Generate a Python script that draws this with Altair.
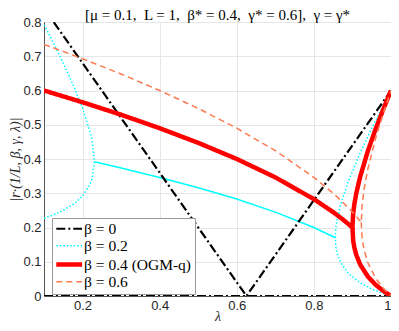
import altair as alt
import pandas as pd

labels = ["β = 0", "β = 0.2", "β = 0.4 (OGM-q)", "β = 0.6"]
colors = ["#000000", "#00ffff", "#ff0000", "#ff7a50"]
dashes = [[9, 3, 2, 3], [1.5, 2], [1, 0], [6, 4]]
widths = [2.2, 1.5, 4.5, 1.5]

# beta = 0
b0_v_lam = [0.1, 0.625, 1.0]
b0_v_r = [0.84, 0.0, 0.6]
b0_z_lam = [0.1, 1.0]
b0_z_r = [0.0, 0.0]

# beta = 0.2 (real-root parts, dotted)
b2_left_lam = [0.1, 0.12, 0.15, 0.18, 0.2, 0.22, 0.225, 0.2309, 0.225, 0.22, 0.2, 0.18, 0.15, 0.12, 0.1]
b2_left_r = [0.227, 0.235, 0.25, 0.271, 0.292, 0.327, 0.343, 0.392, 0.452, 0.477, 0.548, 0.605, 0.68, 0.749, 0.793]
b2_right_lam = [1.0, 0.98, 0.95, 0.92, 0.89, 0.87, 0.86, 0.857, 0.8556, 0.857, 0.86, 0.87, 0.89, 0.92, 0.95, 0.98, 1.0]
b2_right_r = [0.0, 0.0072, 0.0205, 0.0383, 0.0654, 0.0965, 0.1263, 0.1441, 0.17, 0.1986, 0.2217, 0.2695, 0.3367, 0.4177, 0.4896, 0.5568, 0.6]
# beta = 0.2 (complex-root part, thin solid)
b2_mid_lam = [0.2309, 0.3, 0.4, 0.5, 0.6, 0.7, 0.8, 0.8556]
b2_mid_r = [0.392, 0.374, 0.346, 0.316, 0.283, 0.245, 0.2, 0.17]

# beta = 0.4
b4_up_lam = [0.1, 0.2, 0.3, 0.4, 0.5, 0.6, 0.7, 0.8, 0.85, 0.875, 0.9, 0.902, 0.905, 0.91, 0.92, 0.94, 0.96, 0.98, 1.0]
b4_up_r = [0.6, 0.5657, 0.5292, 0.4899, 0.4472, 0.4, 0.3464, 0.2828, 0.2449, 0.2236, 0.2, 0.242, 0.2684, 0.3, 0.3481, 0.4233, 0.4872, 0.5453, 0.6]
b4_lo_lam = [0.9, 0.902, 0.905, 0.91, 0.92, 0.94, 0.96, 0.98, 1.0]
b4_lo_r = [0.2, 0.16, 0.1416, 0.12, 0.0919, 0.0567, 0.0329, 0.0147, 0.0]

# beta = 0.6
b6_up_lam = [0.1, 0.2, 0.3, 0.4, 0.5, 0.6, 0.7, 0.8, 0.85, 0.875, 0.9, 0.91, 0.9229, 0.925, 0.93, 0.94, 0.96, 0.98, 1.0]
b6_up_r = [0.7348, 0.6928, 0.6481, 0.6, 0.5477, 0.4899, 0.4243, 0.3464, 0.3, 0.2739, 0.2449, 0.2324, 0.2151, 0.2655, 0.3109, 0.371, 0.4598, 0.5335, 0.6]
b6_lo_lam = [0.9229, 0.925, 0.93, 0.94, 0.96, 0.98, 1.0]
b6_lo_r = [0.2151, 0.1695, 0.1351, 0.0971, 0.0522, 0.0225, 0.0]

x_ticks = [0.2, 0.4, 0.6, 0.8, 1.0]
y_ticks = [0, 0.1, 0.2, 0.3, 0.4, 0.5, 0.6, 0.7, 0.8]

title_text = "[μ = 0.1,\u2002L = 1,\u2002β* = 0.4,\u2002γ* = 0.6],\u2002γ = γ*"

rows = []
def add(lams, rs, label, path):
    for i, (l, r) in enumerate(zip(lams, rs)):
        rows.append({"lam": l, "r": r, "beta": label, "path": path, "ord": i})

add(b0_v_lam, b0_v_r, labels[0], "b0v")
add(b0_z_lam, b0_z_r, labels[0], "b0z")
add(b2_left_lam, b2_left_r, labels[1], "b2l")
add(b2_right_lam, b2_right_r, labels[1], "b2r")
add(b4_up_lam, b4_up_r, labels[2], "b4u")
add(b4_lo_lam, b4_lo_r, labels[2], "b4l")
add(b6_up_lam, b6_up_r, labels[3], "b6u")
add(b6_lo_lam, b6_lo_r, labels[3], "b6l")
df = pd.DataFrame(rows)

mid = pd.DataFrame({"lam": b2_mid_lam, "r": b2_mid_r})

SERIF = "Liberation Serif"

xs = alt.X("lam:Q", scale=alt.Scale(domain=[0.1, 1.0], nice=False),
           axis=alt.Axis(values=x_ticks, format="~g", title="λ", titleFontStyle="italic",
                         titleFont=SERIF, titleFontSize=14, titleFontWeight="normal",
                         titlePadding=-3, labelOverlap=False))
ys = alt.Y("r:Q", scale=alt.Scale(domain=[0, 0.8], nice=False),
           axis=alt.Axis(values=y_ticks, format="~g", title="|r·(1/L, β, γ, λ)|",
                         titleFontStyle="italic", titleFont=SERIF, titleFontSize=14,
                         titleFontWeight="normal", titleX=-29, titleBaseline="middle",
                         labelOverlap=False))

leg = alt.Legend(title=None, orient="none", legendX=8, legendY=196,
                 symbolType="M-1.2,0H3.1", symbolSize=144,
                 labelFont=SERIF, labelFontSize=15.5, labelOffset=12)

base = alt.Chart(df).mark_line(clip=True).encode(
    x=xs, y=ys,
    color=alt.Color("beta:N", scale=alt.Scale(domain=labels, range=colors), legend=leg),
    strokeDash=alt.StrokeDash("beta:N", scale=alt.Scale(domain=labels, range=dashes), legend=leg),
    strokeWidth=alt.StrokeWidth("beta:N", scale=alt.Scale(type="ordinal", domain=labels, range=widths), legend=leg),
    detail="path:N",
    order="ord:Q",
)

mid_line = alt.Chart(mid).mark_line(color="#00ffff", strokeWidth=1.5, clip=True).encode(
    x=xs, y=ys
)

chart = alt.layer(mid_line, base).properties(
    width=347, height=274,
    autosize=alt.AutoSizeParams(type="none"),
    padding={"left": 36, "top": 14, "right": 0, "bottom": 27},
    title=alt.Title(title_text,
                    font=SERIF, fontSize=15, fontWeight="normal", offset=-7,
                    color="#000000"),
).configure_axis(
    labelFont="Liberation Sans", labelFontSize=13, labelColor="#262626",
    gridColor="#e6e6e6", domainColor="#555555", ticks=False,
    titleColor="#262626", labelPadding=3,
).configure_legend(
    labelFont=SERIF, labelFontSize=15.5, labelColor="#000000",
    fillColor="white", strokeColor="#999999", padding=3, rowPadding=0,
    labelOffset=12,
).configure_view(stroke="#555555")

chart.save("out.html", embed_options={"renderer": "svg", "actions": False})
